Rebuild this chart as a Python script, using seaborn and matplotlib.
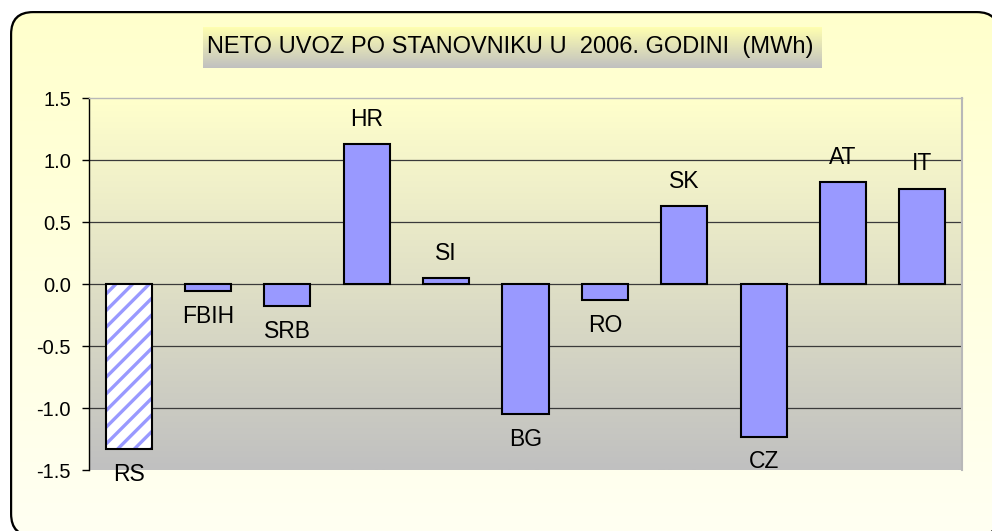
import numpy as np
import matplotlib
matplotlib.use('Agg')
import matplotlib.pyplot as plt
from matplotlib.patches import FancyBboxPatch, Rectangle
from matplotlib.colors import LinearSegmentedColormap
import seaborn as sns

# data
countries = ['RS', 'FBIH', 'SRB', 'HR', 'SI', 'BG', 'RO', 'SK', 'CZ', 'AT', 'IT']
values = [-1.33, -0.06, -0.18, 1.13, 0.05, -1.05, -0.13, 0.63, -1.23, 0.82, 0.77]
y_ticks = [-1.5, -1.0, -0.5, 0.0, 0.5, 1.0, 1.5]
title = 'NETO UVOZ PO STANOVNIKU U  2006. GODINI  (MWh)'

sns.set_style('white')
plt.rcParams['font.family'] = ['Liberation Sans', 'DejaVu Sans']
plt.rcParams['axes.unicode_minus'] = False
plt.rcParams['hatch.linewidth'] = 2.4
plt.rcParams['text.color'] = 'black'

W, H = 992, 531
fig = plt.figure(figsize=(W / 100, H / 100), dpi=100)
fig.patch.set_facecolor('white')

# background layer in pixel coords (origin top-left)
bg = fig.add_axes([0, 0, 1, 1], zorder=-10)
bg.axis('off')
grad = np.linspace(0, 1, 256).reshape(-1, 1)

# rounded frame; right/bottom corners sit just outside the canvas
fx, fy, fw, fh = 10, 11, 990, 526
bw = 2.2
bg.add_patch(FancyBboxPatch((fx, fy), fw, fh, boxstyle='round,pad=0,rounding_size=23',
                            fc='black', ec='none', zorder=0))
inner = FancyBboxPatch((fx + bw, fy + bw), fw - 2 * bw, fh - 2 * bw,
                       boxstyle='round,pad=0,rounding_size=21', fc='none', ec='none')
bg.add_patch(inner)
inner.set_visible(False)
cm_panel = LinearSegmentedColormap.from_list('panel', ['#FFFFCC', '#FFFFF2'])
im = bg.imshow(grad, extent=(fx, fx + fw, 531, fy), cmap=cm_panel, aspect='auto', zorder=1)
im.set_clip_path(inner)

# plot area gradient
cm_plot = LinearSegmentedColormap.from_list('plot', ['#FFFFCC', '#C0C0C0'])
bg.imshow(grad, extent=(89, 962, 470, 98), cmap=cm_plot, aspect='auto', zorder=2)

# title box
cm_title = LinearSegmentedColormap.from_list('title', ['#FFFFB0', '#C0C0C0'])
bg.imshow(grad, extent=(203, 822, 68, 27), cmap=cm_title, aspect='auto', zorder=2)
bg.text(510, 47, title, ha='center', va='center', fontsize=17, color='black', zorder=3)

bg.set_xlim(0, W)
bg.set_ylim(H, 0)

# main chart
ax = fig.add_axes([89 / W, 1 - 470 / H, (962 - 89) / W, (470 - 98) / H])
ax.set_facecolor('none')

sns.barplot(x=countries, y=values, color='#9999FF', saturation=1, edgecolor='black',
            linewidth=1.5, width=0.58, ax=ax, zorder=2)

# RS bar hatched
p = ax.patches[0]
p.set_facecolor('white')
p.set_edgecolor('#9999FF')
p.set_hatch('//')
p.set_linewidth(0)
ax.add_patch(Rectangle(p.get_xy(), p.get_width(), p.get_height(), fill=False,
                       ec='black', lw=1.5, zorder=3))

for t in y_ticks[1:-1]:
    ax.axhline(t, color='#3a3a3a', lw=0.9, zorder=1)

for i, (c, v) in enumerate(zip(countries, values)):
    if v >= 0:
        ax.annotate(c, (i, v), xytext=(0, 13), textcoords='offset points',
                    ha='center', va='baseline', fontsize=16.5, color='black')
    else:
        ax.annotate(c, (i, v), xytext=(0, -10), textcoords='offset points',
                    ha='center', va='top', fontsize=16.5, color='black')

ax.set_ylim(-1.5, 1.5)
ax.set_xlim(-0.5, len(countries) - 0.5)
ax.set_yticks(y_ticks)
ax.set_yticklabels([f'{t:.1f}' for t in y_ticks])
ax.set_xticks([])
ax.set_xlabel('')
ax.set_ylabel('')
ax.tick_params(axis='y', left=True, length=5, width=1, color='black', pad=8,
               labelsize=14.5, labelcolor='black')

ax.spines['left'].set_color('black')
ax.spines['left'].set_linewidth(1)
ax.spines['top'].set_color('#b8b8b8')
ax.spines['right'].set_color('#b8b8b8')
ax.spines['top'].set_linewidth(1)
ax.spines['right'].set_linewidth(1.5)
ax.spines['bottom'].set_visible(False)

fig.savefig('out.png', dpi=100)
